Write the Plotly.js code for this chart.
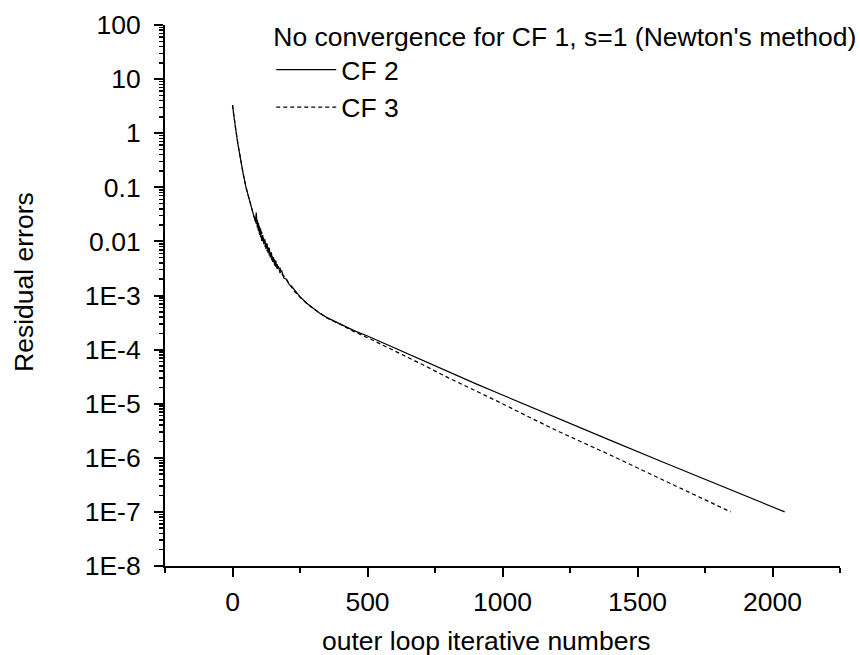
<!DOCTYPE html>
<html>
<head>
<meta charset="utf-8">
<script src="https://cdn.plot.ly/plotly-3.0.1.min.js"></script>
<style>html,body{margin:0;padding:0;background:#fff;}#chart{width:860px;height:655px;}</style>
</head>
<body>
<div id="chart"></div>
<script>
// CF 2 (solid line)
const cf2X = [0, 5, 10, 20, 30, 40, 50, 60, 70, 80, 85, 88, 92, 96, 100, 104, 108, 112, 116, 120, 124, 128, 132, 136, 140, 144, 148, 152, 156, 160, 165, 170, 176, 182, 190, 200, 210, 220, 250, 275, 300, 323, 350, 400, 450, 500, 550, 600, 650, 700, 800, 900, 1000, 1100, 1212, 1400, 1600, 1800, 2045];
const cf2Y = [3.31, 2.0, 1.38, 0.63, 0.316, 0.174, 0.1, 0.063, 0.0417, 0.0282, 0.023, 0.034, 0.018, 0.022, 0.0132, 0.0172, 0.0102, 0.0131, 0.0089, 0.0109, 0.0072, 0.0091, 0.006, 0.0076, 0.005, 0.0063, 0.0042, 0.0051, 0.0036, 0.0044, 0.0031, 0.0035, 0.0026, 0.0029, 0.0021, 0.002, 0.0016, 0.00145, 9.5e-4, 7.2e-4, 5.75e-4, 4.7e-4, 3.9e-4, 2.95e-4, 2.24e-4, 1.78e-4, 1.38e-4, 1.07e-4, 8.3e-5, 6.5e-5, 3.9e-5, 2.35e-5, 1.45e-5, 8.9e-6, 5.1e-6, 2.1e-6, 8.1e-7, 3.2e-7, 1e-7];

// CF 3 (dashed line)
const cf3X = [0, 5, 10, 20, 30, 40, 50, 60, 70, 80, 84, 88, 92, 96, 100, 104, 108, 112, 116, 120, 124, 128, 132, 136, 140, 144, 148, 152, 156, 160, 165, 170, 176, 182, 190, 200, 210, 220, 230, 250, 275, 300, 350, 400, 450, 500, 550, 600, 650, 700, 800, 900, 1000, 1100, 1212, 1400, 1600, 1845];
const cf3Y = [3.31, 2.0, 1.38, 0.63, 0.316, 0.174, 0.1, 0.063, 0.0417, 0.0282, 0.027, 0.021, 0.025, 0.015, 0.02, 0.012, 0.0152, 0.0094, 0.012, 0.0079, 0.0098, 0.0066, 0.0081, 0.0055, 0.0066, 0.0046, 0.0055, 0.0039, 0.0046, 0.0034, 0.0039, 0.003, 0.0032, 0.0025, 0.0023, 0.0019, 0.00165, 0.0014, 0.00118, 9.3e-4, 7.1e-4, 5.7e-4, 3.85e-4, 2.9e-4, 2.15e-4, 1.66e-4, 1.26e-4, 9.5e-5, 7.2e-5, 5.4e-5, 3.0e-5, 1.74e-5, 1.0e-5, 5.6e-6, 3.0e-6, 1.12e-6, 3.8e-7, 1e-7];

// Axis ticks
const yTickVals = [1e-8, 1e-7, 1e-6, 1e-5, 1e-4, 1e-3, 0.01, 0.1, 1, 10, 100];
const yTickText = ["1E-8", "1E-7", "1E-6", "1E-5", "1E-4", "1E-3", "0.01", "0.1", "1", "10", "100"];
const xTickVals = [0, 500, 1000, 1500, 2000];
const yDecades = [-8, -7, -6, -5, -4, -3, -2, -1, 0, 1];

// minor log ticks (2..9 within each decade), as exponents on a linear helper axis
const yMinorExp = [];
yDecades.forEach(function (d) {
  for (let m = 2; m <= 9; m++) yMinorExp.push(d + Math.log10(m));
});

const FONT = "Liberation Sans, Arial, sans-serif";
const FS = 26.5;

const traces = [
  {x: cf2X, y: cf2Y, name: "CF 2", type: "scatter", mode: "lines",
   line: {color: "black", width: 1.2}},
  {x: cf3X, y: cf3Y, name: "CF 3", type: "scatter", mode: "lines",
   line: {color: "black", width: 1.2, dash: "4px,3px"}},
  // empty helper trace so the minor-tick axis is created
  {x: [null], y: [null], yaxis: "y2", type: "scatter", mode: "markers",
   showlegend: false, hoverinfo: "skip", marker: {opacity: 0}}
];

const layout = {
  width: 860, height: 655,
  margin: {l: 165, r: 20, t: 25, b: 89, autoexpand: false},
  paper_bgcolor: "white", plot_bgcolor: "white",
  font: {family: FONT, size: FS, color: "black"},
  showlegend: true,
  legend: {
    x: 0.1574, y: 1.025, xanchor: "left", yanchor: "top",
    bgcolor: "rgba(0,0,0,0)", borderwidth: 0,
    font: {family: FONT, size: FS, color: "black"},
    title: {text: "No convergence for CF 1, s=1 (Newton's method)", side: "top", font: {family: FONT, size: FS, color: "black"}},
    itemwidth: 60, tracegroupgap: 0
  },
  xaxis: {
    range: [-250, 2250], showgrid: false, zeroline: false,
    showline: true, linecolor: "black", linewidth: 2,
    tickmode: "array", tickvals: xTickVals,
    ticks: "outside", ticklen: 9, tickwidth: 2, tickcolor: "black",
    minor: {dtick: 250, ticks: "outside", ticklen: 5, tickwidth: 2, tickcolor: "black", showgrid: false},
    tickfont: {family: FONT, size: FS, color: "black"},
    ticklabelstandoff: 2
  },
  yaxis: {
    type: "log", range: [-8, 2], showgrid: false, zeroline: false,
    showline: true, linecolor: "black", linewidth: 2,
    tickmode: "array", tickvals: yTickVals, ticktext: yTickText,
    ticks: "outside", ticklen: 9, tickwidth: 2, tickcolor: "black",
    tickfont: {family: FONT, size: FS, color: "black"},
    ticklabelstandoff: 8
  },
  yaxis2: {
    type: "linear", range: [-8, 2], autorange: false, overlaying: "y", side: "left", anchor: "x",
    showgrid: false, zeroline: false, showline: false, showticklabels: false,
    tickmode: "array", tickvals: yMinorExp,
    ticks: "outside", ticklen: 5, tickwidth: 1.5, tickcolor: "black"
  },
  annotations: [
    {text: "outer loop iterative numbers", xref: "paper", yref: "paper",
     x: (486 - 165) / 675, y: -0.138, xanchor: "center", yanchor: "middle", showarrow: false,
     font: {family: FONT, size: FS, color: "black"}},
    {text: "Residual errors", xref: "paper", yref: "paper", textangle: -90,
     x: -0.209, y: (566 - 282) / 541, xanchor: "center", yanchor: "middle", showarrow: false,
     font: {family: FONT, size: FS, color: "black"}}
  ]
};

Plotly.newPlot("chart", traces, layout, {displayModeBar: false, staticPlot: true});
</script>
</body>
</html>
